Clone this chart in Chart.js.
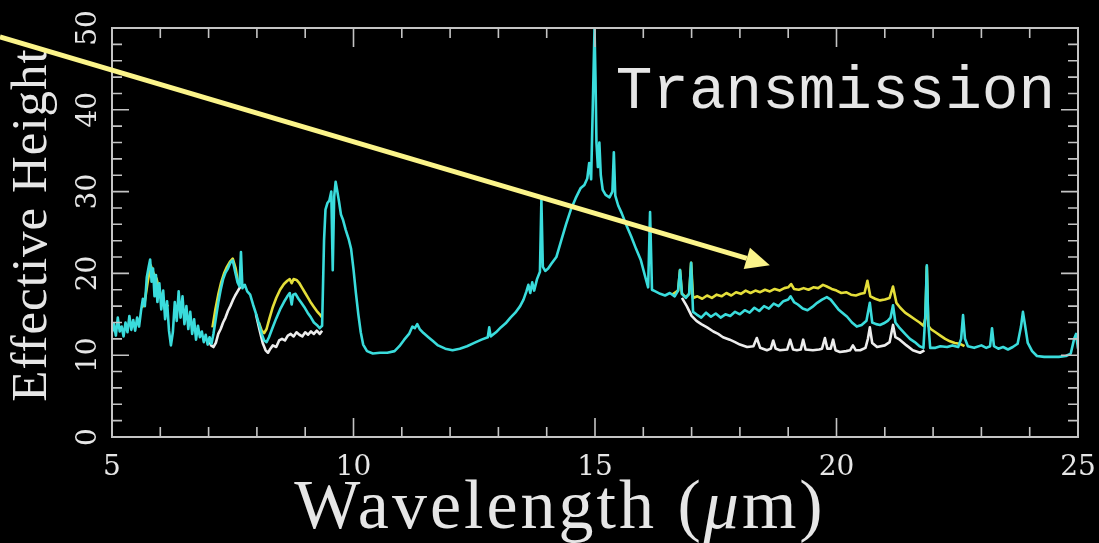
<!DOCTYPE html>
<html>
<head>
<meta charset="utf-8">
<script src="https://cdn.jsdelivr.net/npm/chart.js@4.4.1/dist/chart.umd.min.js"></script>
<style>
  html, body { margin: 0; padding: 0; background: #000; }
  canvas { display: block; }
</style>
</head>
<body>
<canvas id="spectrum" width="1099" height="543"></canvas>
<script>
// ── Axis ranges + tick labels ──
const X_MIN = 5, X_MAX = 25;
const Y_MIN = 0, Y_MAX = 50;
const xTickLabels = [5, 10, 15, 20, 25];
const yTickLabels = [0, 10, 20, 30, 40, 50];

// ── Cyan spectrum (whole range, drawn on top) ──
const cyanWl = [
  5.00, 5.04, 5.08, 5.12, 5.16, 5.20, 5.24, 5.28, 5.32, 5.36,
  5.40, 5.44, 5.48, 5.52, 5.56, 5.60, 5.64, 5.68, 5.72, 5.76,
  5.79, 5.82, 5.85, 5.88, 5.91, 5.94, 5.98, 6.02, 6.06, 6.10,
  6.14, 6.18, 6.22, 6.26, 6.30, 6.34, 6.38, 6.42, 6.46, 6.50,
  6.54, 6.58, 6.62, 6.66, 6.70, 6.74, 6.78, 6.82, 6.86, 6.90,
  6.94, 6.98, 7.02, 7.06, 7.10, 7.15, 7.20, 7.25, 7.30, 7.35,
  7.40, 7.45, 7.50, 7.55, 7.60, 7.64, 7.67, 7.70, 7.75, 7.80,
  7.86, 7.92, 7.98, 8.04, 8.10, 8.15, 8.20, 8.25, 8.32, 8.40,
  8.48, 8.56, 8.63, 8.68, 8.72, 8.75, 8.80, 8.86, 8.92, 8.98,
  9.05, 9.12, 9.18, 9.24, 9.30, 9.35, 9.39, 9.42, 9.46, 9.50,
  9.54, 9.57, 9.60, 9.63, 9.66, 9.70, 9.74, 9.78, 9.84, 9.90,
  9.95, 10.00, 10.05, 10.10, 10.15, 10.20, 10.28, 10.40, 10.55, 10.70,
  10.85, 10.95, 11.05, 11.15, 11.22, 11.27, 11.32, 11.37, 11.45, 11.55,
  11.65, 11.75, 11.90, 12.05, 12.20, 12.35, 12.50, 12.65, 12.78, 12.81,
  12.84, 12.95, 13.05, 13.15, 13.25, 13.35, 13.45, 13.52, 13.58, 13.62,
  13.66, 13.70, 13.74, 13.80, 13.86, 13.89, 13.92, 13.97, 14.03, 14.10,
  14.20, 14.30, 14.40, 14.50, 14.60, 14.70, 14.78, 14.84, 14.88, 14.92,
  14.96, 14.99, 15.01, 15.03, 15.06, 15.09, 15.12, 15.16, 15.22, 15.30,
  15.36, 15.39, 15.42, 15.48, 15.55, 15.65, 15.75, 15.85, 15.95, 16.03,
  16.10, 16.14, 16.18, 16.25, 16.35, 16.45, 16.55, 16.65, 16.72, 16.76,
  16.80, 16.88, 16.95, 16.99, 17.03, 17.10, 17.20, 17.30, 17.40, 17.50,
  17.60, 17.70, 17.80, 17.90, 18.00, 18.10, 18.20, 18.30, 18.40, 18.50,
  18.60, 18.70, 18.80, 18.90, 19.00, 19.05, 19.12, 19.20, 19.30, 19.40,
  19.50, 19.60, 19.70, 19.80, 19.88, 19.96, 20.04, 20.12, 20.22, 20.32,
  20.42, 20.52, 20.62, 20.69, 20.74, 20.82, 20.90, 20.98, 21.06, 21.12,
  21.17, 21.22, 21.31, 21.42, 21.52, 21.62, 21.72, 21.80, 21.84, 21.87,
  21.90, 21.94, 22.05, 22.15, 22.29, 22.40, 22.52, 22.58, 22.62, 22.66,
  22.72, 22.85, 23.00, 23.10, 23.18, 23.22, 23.26, 23.35, 23.45, 23.55,
  23.65, 23.75, 23.82, 23.86, 23.90, 23.96, 24.05, 24.15, 24.30, 24.45,
  24.60, 24.75, 24.85, 24.92, 24.96, 25.00
];
const cyanH = [
  12.8, 13.8, 12.4, 14.6, 12.9, 13.5, 12.3, 14.0, 12.8, 14.8,
  13.1, 14.3, 13.0, 14.6, 13.5, 15.4, 16.9, 16.0, 19.5, 20.8,
  21.7, 19.0, 20.6, 17.2, 19.8, 16.5, 18.8, 15.6, 17.9, 14.4,
  16.6, 13.0, 11.2, 12.8, 16.5, 14.2, 17.8, 14.6, 17.2, 13.8,
  16.0, 13.2, 15.3, 12.6, 14.4, 11.9, 13.6, 12.2, 12.9, 11.6,
  12.5, 11.3, 12.2, 11.4, 12.6, 14.5, 16.4, 18.0, 19.3, 20.1,
  20.6, 21.3, 21.6, 20.2, 18.9, 18.4, 22.6, 18.2, 18.6, 17.8,
  17.4, 16.2, 15.1, 13.9, 12.6, 11.8, 11.6, 12.2, 13.3, 14.5,
  15.6, 16.5, 17.2, 17.6, 16.2, 17.4, 17.5, 16.9, 16.4, 15.9,
  15.2, 14.6, 14.0, 13.7, 13.3, 13.6, 24.0, 27.8, 28.6, 28.9,
  30.0, 20.4, 29.4, 31.2, 30.2, 28.8, 27.2, 26.6, 25.3, 24.2,
  23.0, 20.5, 17.6, 15.0, 12.8, 11.3, 10.5, 10.2, 10.3, 10.3,
  10.5, 11.1, 11.9, 12.6, 13.5, 13.3, 13.8, 13.2, 12.7, 12.2,
  11.7, 11.2, 10.8, 10.6, 10.8, 11.1, 11.5, 11.9, 12.2, 13.4,
  12.3, 12.8, 13.4, 13.9, 14.6, 15.2, 16.0, 16.8, 17.8, 18.6,
  17.6, 18.9, 17.9, 19.3, 20.2, 29.0, 20.8, 20.3, 20.6, 21.2,
  22.0, 24.0, 26.0, 27.8, 29.2, 30.4, 30.8, 31.6, 33.5, 31.5,
  42.0, 50.0, 44.0, 36.0, 33.0, 36.0, 32.0, 30.2, 29.6, 29.3,
  30.0, 34.8, 29.5, 28.3, 27.4, 25.9, 24.5, 23.0, 21.6, 19.8,
  18.3, 27.5, 18.0, 17.8, 17.5, 17.3, 17.6, 17.2, 17.9, 20.4,
  17.5, 17.0, 17.5, 21.3, 15.3, 15.0, 14.6, 15.2, 14.7, 15.1,
  14.6, 15.0, 14.8, 15.3, 15.0, 15.5, 15.2, 15.8, 15.4, 16.0,
  15.7, 16.3, 16.0, 16.6, 16.8, 17.2, 16.5, 16.2, 15.7, 15.5,
  15.9, 16.4, 16.8, 17.1, 16.8, 16.2, 15.6, 15.2, 14.7, 14.0,
  13.5, 13.7, 14.2, 16.4, 14.0, 13.8, 13.7, 13.9, 14.2, 14.6,
  16.1, 14.0, 13.3, 12.6, 12.0, 11.6, 11.1, 10.9, 15.0, 21.0,
  14.0, 10.9, 10.9, 11.1, 11.0, 11.2, 11.0, 12.0, 14.9, 12.0,
  11.1, 10.9, 11.2, 10.9, 11.1, 13.3, 11.1, 10.8, 11.0, 10.7,
  11.0, 11.4, 13.5, 15.3, 13.8, 11.5, 10.5, 9.9, 9.8, 9.8,
  9.8, 9.9, 10.2, 12.0, 12.6, 10.8
];

// ── Yellow spectrum (only where it leaves the cyan one; null = gap) ──
const yellowWl = [
  5.62, 5.68, 5.74, 5.80, 5.86, 5.92, 5.98, 6.04, 6.10, 6.16, 6.20,
  7.08, 7.14, 7.20, 7.26, 7.32, 7.38, 7.44, 7.50, 7.56, 7.60, 7.61,
  8.04, 8.10, 8.15, 8.20, 8.26, 8.33, 8.40, 8.48, 8.56, 8.63,
  8.68, 8.72, 8.76, 8.82, 8.88, 8.94, 9.00, 9.06, 9.12, 9.18,
  9.24, 9.30, 9.35, 9.36,
  16.60, 16.72, 16.76, 16.80, 16.88, 16.95, 16.99, 17.03, 17.12, 17.22,
  17.32, 17.42, 17.52, 17.62, 17.72, 17.82, 17.92, 18.02, 18.12, 18.22,
  18.32, 18.42, 18.52, 18.62, 18.72, 18.82, 18.92, 19.00, 19.06, 19.12,
  19.22, 19.32, 19.42, 19.52, 19.62, 19.72, 19.80, 19.90, 20.00, 20.10,
  20.20, 20.30, 20.40, 20.50, 20.58, 20.64, 20.70, 20.80, 20.90, 21.00,
  21.10, 21.17, 21.24, 21.32, 21.42, 21.52, 21.62, 21.72, 21.80, 21.84,
  21.87, 21.90, 21.95, 22.05, 22.15, 22.25, 22.35, 22.45, 22.55, 22.65
];
const yellowH = [
  15.8, 16.6, 19.0, 21.0, 20.0, 19.4, 18.0, 16.8, 15.6, 16.2, null,
  13.4, 15.6, 17.4, 18.9, 20.0, 20.8, 21.4, 21.8, 20.6, 19.2, null,
  14.0, 13.0, 12.7, 13.2, 14.5, 15.9, 17.0, 18.0, 18.7, 19.1,
  19.3, 18.8, 19.3, 19.2, 18.8, 18.2, 17.6, 17.0, 16.4, 15.9,
  15.4, 15.0, 14.6, null,
  17.4, 17.9, 20.4, 17.5, 17.1, 17.5, 21.3, 17.0, 17.2, 16.9,
  17.3, 17.0, 17.4, 17.2, 17.6, 17.3, 17.7, 17.5, 17.9, 17.6,
  17.9, 17.7, 18.0, 17.8, 18.1, 17.9, 18.2, 18.3, 18.7, 18.1,
  18.0, 18.2, 18.0, 18.3, 18.2, 18.6, 18.4, 18.1, 17.9, 17.6,
  17.7, 17.4, 17.3, 17.5, 17.6, 19.1, 17.2, 16.9, 16.7, 16.8,
  17.0, 18.4, 16.4, 15.8, 15.2, 14.8, 14.4, 14.0, 13.6, 14.5,
  20.8, 13.6, 13.2, 12.8, 12.4, 12.0, 11.7, 11.5, 11.4, 11.1
];

// ── White spectrum (only where it leaves the cyan one; null = gap) ──
const whiteWl = [
  7.00, 7.05, 7.10, 7.15, 7.20, 7.25, 7.30, 7.35, 7.40, 7.45,
  7.50, 7.55, 7.60, 7.66, 7.67,
  7.98, 8.05, 8.12, 8.18, 8.23, 8.28, 8.33, 8.40, 8.46, 8.52,
  8.58, 8.64, 8.70, 8.76, 8.82, 8.88, 8.94, 9.00, 9.06, 9.12,
  9.18, 9.24, 9.30, 9.35, 9.36,
  16.80, 16.90, 17.00, 17.10, 17.20, 17.32, 17.45, 17.55, 17.65, 17.79,
  17.90, 18.00, 18.15, 18.28, 18.35, 18.42, 18.56, 18.64, 18.69, 18.74,
  18.83, 18.98, 19.04, 19.10, 19.18, 19.26, 19.31, 19.36, 19.51, 19.64,
  19.70, 19.76, 19.81, 19.88, 19.93, 19.98, 20.07, 20.20, 20.28, 20.34,
  20.40, 20.49, 20.60, 20.65, 20.69, 20.74, 20.84, 21.00, 21.10, 21.17,
  21.22, 21.31, 21.45, 21.58, 21.73, 21.82
];
const whiteH = [
  12.0, 11.2, 11.0, 11.5, 12.6, 13.2, 14.0, 14.6, 15.4, 16.0,
  16.7, 17.3, 17.8, 18.4, null,
  15.0, 13.2, 11.5, 10.6, 10.3, 10.8, 11.2, 11.0, 11.8, 12.0,
  11.8, 12.4, 12.6, 12.3, 12.8, 12.5, 12.3, 12.8, 12.5, 12.9,
  12.6, 13.0, 12.6, 13.0, null,
  17.0, 16.0, 14.8, 14.2, 13.8, 13.4, 12.9, 12.6, 12.2, 11.9,
  11.6, 11.3, 11.0, 11.1, 12.1, 10.9, 10.6, 10.8, 11.8, 10.8,
  10.6, 10.7, 11.9, 10.7, 10.6, 10.7, 11.9, 10.7, 10.6, 10.7,
  10.8, 12.1, 10.8, 10.8, 11.9, 10.6, 10.4, 10.5, 10.6, 11.2,
  10.6, 10.6, 10.9, 12.0, 13.4, 11.5, 11.0, 11.2, 11.6, 13.7,
  12.2, 11.9, 11.2, 10.6, 10.3, 10.6
];

// ── Annotation arrow, in data units (wavelength, height) ──
const arrowFrom = [2.68, 48.9];
const arrowTo = [18.62, 21.0];

const COLORS = {
  cyan:   "#3adcdc",
  yellow: "#e4de3a",
  white:  "#ededed",
  frame:  "#c4c4c4",
  text:   "#e6e6e6",
  arrow:  "#fbf48a",
};

const toPoints = (wl, h) => wl.map((x, i) => ({ x, y: h[i] }));

function lineSet(label, wl, h, color) {
  return {
    label,
    data: toPoints(wl, h),
    borderColor: color,
    borderWidth: 2.6,
    borderJoinStyle: "round",
    pointRadius: 0,
    tension: 0,
    spanGaps: false,
  };
}

// ── Frame, inward ticks, titles, label and arrow ──
const decorations = {
  id: "decorations",
  afterDraw(chart) {
    const { ctx, chartArea: a, scales: { x, y } } = chart;
    ctx.save();

    // box + ticks on all four sides
    ctx.strokeStyle = COLORS.frame;
    ctx.lineWidth = 2;
    ctx.strokeRect(a.left, a.top, a.right - a.left, a.bottom - a.top);
    ctx.lineWidth = 1.6;
    ctx.beginPath();
    for (let v = X_MIN; v <= X_MAX; v += 1) {
      const px = x.getPixelForValue(v);
      const len = v % 5 === 0 ? 19 : 10;
      ctx.moveTo(px, a.bottom); ctx.lineTo(px, a.bottom - len);
      ctx.moveTo(px, a.top); ctx.lineTo(px, a.top + len);
    }
    for (let v = Y_MIN; v <= Y_MAX; v += 2) {
      const py = y.getPixelForValue(v);
      const len = v % 10 === 0 ? 17 : 10;
      ctx.moveTo(a.left, py); ctx.lineTo(a.left + len, py);
      ctx.moveTo(a.right, py); ctx.lineTo(a.right - len, py);
    }
    ctx.stroke();

    // x title, with an italic mu
    ctx.fillStyle = COLORS.text;
    ctx.textBaseline = "alphabetic";
    ctx.letterSpacing = "3px";
    const upright = '70px "Liberation Serif"';
    const italic = 'italic 70px "Liberation Serif"';
    const parts = [["Wavelength (", upright], ["\u03bc", italic], ["m)", upright]];
    let total = 0;
    parts.forEach(([t, f]) => { ctx.font = f; total += ctx.measureText(t).width; });
    let cx = 560 - total / 2;
    parts.forEach(([t, f]) => {
      ctx.font = f;
      ctx.fillText(t, cx, 528);
      cx += ctx.measureText(t).width;
    });

    // y title
    ctx.save();
    ctx.translate(46, 225);
    ctx.rotate(-Math.PI / 2);
    ctx.letterSpacing = "1px";
    ctx.font = '51px "Liberation Serif"';
    ctx.textAlign = "center";
    ctx.fillText("Effective Height", 0, 0);
    ctx.restore();

    // panel label
    ctx.letterSpacing = "0px";
    ctx.font = '61px "Liberation Mono"';
    ctx.textAlign = "right";
    ctx.fillText("Transmission", a.right - 23, 108);

    // arrow
    const p0 = { x: x.getPixelForValue(arrowFrom[0]), y: y.getPixelForValue(arrowFrom[1]) };
    const p1 = { x: x.getPixelForValue(arrowTo[0]), y: y.getPixelForValue(arrowTo[1]) };
    const ang = Math.atan2(p1.y - p0.y, p1.x - p0.x);
    const headLen = 24, headHalf = 11;
    const bx = p1.x - headLen * Math.cos(ang);
    const by = p1.y - headLen * Math.sin(ang);
    ctx.strokeStyle = COLORS.arrow;
    ctx.fillStyle = COLORS.arrow;
    ctx.lineWidth = 5;
    ctx.beginPath();
    ctx.moveTo(p0.x, p0.y);
    ctx.lineTo(bx, by);
    ctx.stroke();
    ctx.beginPath();
    ctx.moveTo(p1.x, p1.y);
    ctx.lineTo(bx - headHalf * Math.sin(ang), by + headHalf * Math.cos(ang));
    ctx.lineTo(bx + headHalf * Math.sin(ang), by - headHalf * Math.cos(ang));
    ctx.closePath();
    ctx.fill();

    ctx.restore();
  },
};

const tickFont = { family: '"DejaVu Serif"', size: 28 };

new Chart(document.getElementById("spectrum"), {
  type: "line",
  data: {
    datasets: [
      lineSet("cyan", cyanWl, cyanH, COLORS.cyan),
      lineSet("yellow", yellowWl, yellowH, COLORS.yellow),
      lineSet("white", whiteWl, whiteH, COLORS.white),
    ],
  },
  options: {
    responsive: false,
    animation: false,
    layout: { padding: { top: 28, right: 21, left: 0, bottom: 0 } },
    plugins: { legend: { display: false }, tooltip: { enabled: false } },
    scales: {
      x: {
        type: "linear",
        min: X_MIN,
        max: X_MAX,
        afterFit: (s) => { s.height = 106; s.paddingLeft = 0; s.paddingRight = 0; },
        afterBuildTicks: (s) => { s.ticks = xTickLabels.map(v => ({ value: v })); },
        grid: { display: false, drawTicks: false },
        border: { display: false },
        ticks: { color: COLORS.text, font: tickFont, padding: 14, maxRotation: 0, autoSkip: false },
      },
      y: {
        type: "linear",
        min: Y_MIN,
        max: Y_MAX,
        afterFit: (s) => { s.width = 112; s.paddingTop = 0; s.paddingBottom = 0; },
        afterBuildTicks: (s) => { s.ticks = yTickLabels.map(v => ({ value: v })); },
        grid: { display: false, drawTicks: false },
        border: { display: false },
        ticks: {
          color: COLORS.text, font: tickFont, padding: 5,
          minRotation: 90, maxRotation: 90, crossAlign: "center", autoSkip: false,
        },
      },
    },
  },
  plugins: [decorations],
});
</script>
</body>
</html>
